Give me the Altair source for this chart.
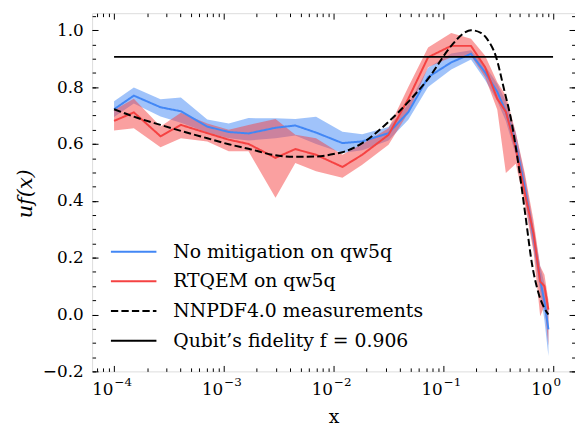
import altair as alt
import pandas as pd

# ---------------- data ----------------
x_grid = [1.0e-4, 1.514e-4, 2.651e-4, 4.064e-4, 7.071e-4, 1.109e-3, 1.680e-3, 2.959e-3,
          4.481e-3, 6.928e-3, 1.205e-2, 1.825e-2, 3.169e-2, 4.799e-2, 7.266e-2, 0.1181,
          0.1788, 0.2405, 0.3104, 0.3717, 0.4574, 0.5513, 0.6646, 0.7637, 0.8348, 0.9073]

blue_mid = [0.722, 0.770, 0.729, 0.715, 0.661, 0.642, 0.637, 0.657, 0.665, 0.640, 0.603, 0.609,
            0.638, 0.712, 0.835, 0.887, 0.917, 0.852, 0.783, 0.713, 0.600, 0.450, 0.272, 0.122,
            0.045, -0.052]
blue_lo = [0.695, 0.742, 0.697, 0.675, 0.640, 0.620, 0.612, 0.620, 0.630, 0.600, 0.568, 0.578,
           0.612, 0.685, 0.800, 0.862, 0.897, 0.825, 0.750, 0.680, 0.560, 0.410, 0.230, 0.080,
           -0.020, -0.146]
blue_hi = [0.750, 0.799, 0.757, 0.763, 0.686, 0.672, 0.691, 0.690, 0.688, 0.696, 0.643, 0.634,
           0.660, 0.740, 0.868, 0.918, 0.930, 0.875, 0.812, 0.750, 0.640, 0.490, 0.310, 0.170,
           0.110, 0.040]

red_mid = [0.681, 0.711, 0.627, 0.667, 0.638, 0.615, 0.600, 0.551, 0.582, 0.562, 0.519, 0.562,
           0.632, 0.759, 0.905, 0.945, 0.945, 0.870, 0.759, 0.713, 0.585, 0.430, 0.284, 0.116,
           0.100, 0.017]
red_lo = [0.647, 0.655, 0.588, 0.620, 0.609, 0.574, 0.574, 0.411, 0.533, 0.504, 0.481, 0.527,
          0.597, 0.710, 0.870, 0.905, 0.910, 0.835, 0.720, 0.498, 0.530, 0.390, 0.220, -0.006,
          0.030, -0.110]
red_hi = [0.719, 0.759, 0.661, 0.710, 0.672, 0.650, 0.667, 0.688, 0.632, 0.620, 0.562, 0.600,
          0.655, 0.800, 0.939, 0.990, 0.970, 0.910, 0.817, 0.770, 0.640, 0.500, 0.330, 0.170,
          0.140, 0.050]

nnpdf_x = [1.0e-4, 1.514e-4, 2.651e-4, 4.064e-4, 7.071e-4, 1.109e-3, 1.680e-3, 2.959e-3,
           4.481e-3, 6.928e-3, 1.049e-2, 1.205e-2, 1.825e-2, 3.169e-2, 4.799e-2, 7.266e-2,
           0.1181, 0.1556, 0.1788, 0.2199, 0.2522, 0.3002, 0.3567, 0.4236, 0.4868, 0.5595,
           0.6416, 0.7374, 0.9073]
nnpdf_y = [0.722, 0.696, 0.667, 0.646, 0.620, 0.599, 0.583, 0.560, 0.555, 0.556, 0.566, 0.571,
           0.603, 0.678, 0.748, 0.829, 0.945, 0.991, 1.000, 0.991, 0.968, 0.910, 0.794, 0.667,
           0.520, 0.350, 0.180, 0.075, 0.000]

fid_x = [1.0e-4, 1.0]
fid_value = 0.906

names = ["No mitigation on qw5q", "RTQEM on qw5q", "NNPDF4.0 measurements",
         "Qubit\u2019s fidelity f = 0.906"]
line_colors = ["#4287f5", "#f54242", "#000000", "#000000"]
dashes = [[1, 0], [1, 0], [7.4, 3.2], [1, 0]]

x_major = [1e-4, 1e-3, 1e-2, 1e-1, 1.0]
y_major = [-0.2, 0.0, 0.2, 0.4, 0.6, 0.8, 1.0]

# ---------------- tables ----------------
band_df = pd.DataFrame({"x": x_grid, "blo": blue_lo, "bhi": blue_hi,
                        "rlo": red_lo, "rhi": red_hi})
meas_df = pd.concat([
    pd.DataFrame({"x": x_grid, "y": blue_mid, "series": names[0]}),
    pd.DataFrame({"x": x_grid, "y": red_mid, "series": names[1]}),
])
nn_df = pd.DataFrame({"x": nnpdf_x, "y": nnpdf_y, "series": names[2]})
fid_df = pd.DataFrame({"x": fid_x, "y": [fid_value] * len(fid_x), "series": names[3]})

x_minor = [m * 10.0 ** k for k in range(-5, 1) for m in range(2, 10)
           if 6.4e-5 < m * 10.0 ** k < 1.58]
y_minor = [round(-0.2 + 0.05 * i, 2) for i in range(26)]

FONT = "DejaVu Serif"
FS = 19      # legend / titles
TFS = 17     # tick labels
xs = alt.Scale(type="log", domain=[10 ** -4.2, 10 ** 0.2], nice=False)
ys = alt.Scale(domain=[-0.2, 1.06], nice=False, zero=False)

exp_label_expr = ("datum.value < 0.0005 ? '\u22124' : datum.value < 0.005 ? '\u22123' : "
                  "datum.value < 0.05 ? '\u22122' : datum.value < 0.5 ? '\u22121' : '0'")
y_label_expr = "replace(format(datum.value, '.1f'), '-', '\u2212')"

main_x_axis = alt.Axis(orient="bottom", values=x_major, labelExpr="'10'", labelAlign="right",
                       labelOffset=-1, ticks=False,
                       tickSize=0, domain=False, grid=False, labelPadding=10, labelFont=FONT,
                       labelFontSize=TFS, labelColor="black", labelFlush=False, labelOverlap=False,
                       title="x", titleFont=FONT, titleFontSize=FS, titleFontWeight="normal",
                       titleColor="black", titleX=244, titleY=46, titleBaseline="middle")
main_y_axis = alt.Axis(orient="left", values=y_major, labelExpr=y_label_expr, ticks=False,
                       tickSize=0, domain=False, grid=False, labelPadding=9, labelFont=FONT,
                       labelFontSize=TFS, labelColor="black", labelFlush=False, labelOverlap=False,
                       title="uf(x)", titleFont=FONT, titleFontSize=21, titleFontWeight="normal",
                       titleFontStyle="italic", titleColor="black", titleX=-67, titleY=182,
                       titleBaseline="middle", titleAngle=270)

blue_band = alt.Chart(band_df).mark_area(color="#4287f5", opacity=0.5).encode(
    x=alt.X("x:Q", scale=xs, axis=main_x_axis),
    y=alt.Y("blo:Q", scale=ys, axis=main_y_axis),
    y2="bhi:Q",
)
red_band = alt.Chart(band_df).mark_area(color="#f54242", opacity=0.5).encode(
    x=alt.X("x:Q", scale=xs, axis=None),
    y=alt.Y("rlo:Q", scale=ys, axis=None),
    y2="rhi:Q",
)

leg = alt.Legend(title=None, orient="none", legendX=18, legendY=226, direction="vertical",
                 symbolType="stroke", symbolSize=2116, symbolStrokeWidth=2, labelFont=FONT,
                 labelFontSize=FS, labelColor="black", labelOffset=16, clipHeight=30,
                 rowPadding=0, padding=0, labelLimit=400)
color_enc = alt.Color("series:N", scale=alt.Scale(domain=names, range=line_colors), legend=leg)
dash_enc = alt.StrokeDash("series:N", scale=alt.Scale(domain=names, range=dashes), legend=leg)


def line_layer(df, width, interp="linear"):
    return alt.Chart(df).mark_line(strokeWidth=width, interpolate=interp, strokeCap="butt").encode(
        x=alt.X("x:Q", scale=xs, axis=None),
        y=alt.Y("y:Q", scale=ys, axis=None),
        color=color_enc,
        strokeDash=dash_enc,
    )


meas_lines = line_layer(meas_df, 2)
nn_line = line_layer(nn_df, 2, "monotone")
fid_line = line_layer(fid_df, 1.8)

tick_df = pd.DataFrame({"x": [1e-2], "y": [0.5]})


def tick_layer(xvals, yvals, xorient, yorient, size):
    common = dict(tickSize=size, offset=-size, labels=False, domain=False, grid=False,
                  title=None, ticks=True, tickColor="black", tickWidth=1)
    return alt.Chart(tick_df).mark_point(opacity=0).encode(
        x=alt.X("x:Q", scale=xs, axis=alt.Axis(orient=xorient, values=xvals, **common)),
        y=alt.Y("y:Q", scale=ys, axis=alt.Axis(orient=yorient, values=yvals, **common)),
    )


ticks = [
    tick_layer(x_major, y_major, "bottom", "left", 6),
    tick_layer(x_minor, y_minor, "bottom", "left", 3.5),
    tick_layer(x_major, y_major, "top", "right", 6),
    tick_layer(x_minor, y_minor, "top", "right", 3.5),
]

# superscript exponents of the x tick labels
exp_layer = alt.Chart(tick_df).mark_point(opacity=0).encode(
    x=alt.X("x:Q", scale=xs, axis=alt.Axis(
        orient="bottom", values=x_major, labelExpr=exp_label_expr, labelAlign="left",
        labelOffset=0, labelPadding=5, labelFont=FONT, labelFontSize=12, labelColor="black",
        labelFlush=False, labelOverlap=False, ticks=False, tickSize=0, domain=False,
        grid=False, title=None)),
    y=alt.Y("y:Q", scale=ys, axis=None),
)

chart = alt.layer(blue_band, red_band, meas_lines, nn_line, fid_line, *ticks, exp_layer).resolve_axis(
    x="independent", y="independent"
).properties(
    width=488, height=362,
    padding={"left": 85, "top": 3, "right": 0, "bottom": 57},
    autosize=alt.AutoSizeParams(type="none"),
).configure_view(stroke="black", strokeWidth=1).configure(font=FONT, background="white")

chart.save("out.html", embed_options={"renderer": "svg", "actions": False})
